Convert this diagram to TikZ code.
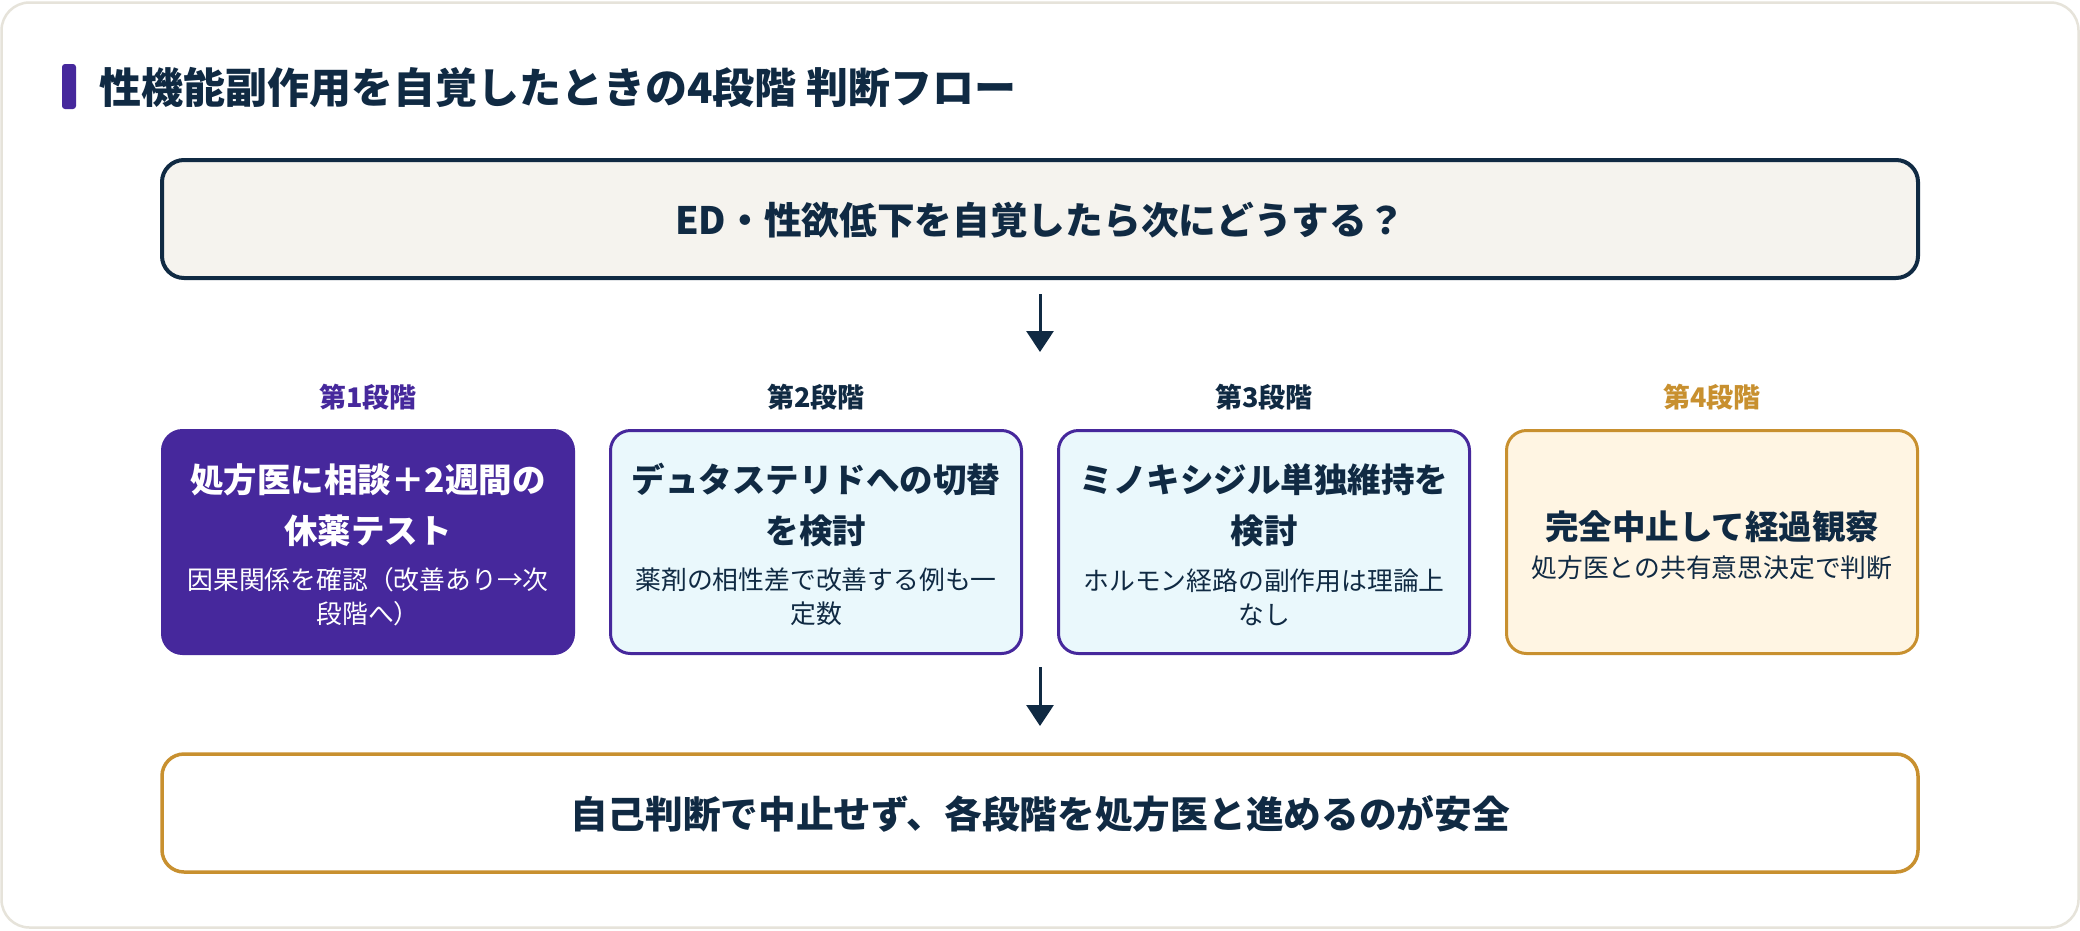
\documentclass[tikz,border=0pt]{standalone}
\usepackage{fontspec}
\setmainfont{Noto Sans CJK JP}
\usetikzlibrary{arrows.meta}
\definecolor{navy}{HTML}{102A43}
\definecolor{purp}{HTML}{46289C}
\definecolor{gold}{HTML}{C8902F}
\definecolor{cyanfill}{HTML}{EAF8FC}
\definecolor{creamfill}{HTML}{FFF5E3}
\definecolor{topfill}{HTML}{F5F3EE}
\definecolor{cardline}{HTML}{E6E3DA}
\begin{document}
\begin{tikzpicture}[x=1pt,y=-1pt,
  wide/.style={rectangle, rounded corners=22pt, minimum width=1756pt, minimum height=118pt, inner sep=0pt},
  stagebox/.style={rectangle, rounded corners=20pt, minimum width=411pt, minimum height=223pt, inner sep=0pt, line width=3pt},
  stagelabel/.style={font=\fontsize{27}{32}\selectfont\bfseries, inner sep=0pt},
  btitle/.style={font=\fontsize{33.5}{51}\selectfont\bfseries, align=center, inner sep=0pt},
  bsub/.style={font=\fontsize{25.8}{34}\selectfont, align=center, inner sep=0pt},
  arr/.style={draw=navy, line width=3pt, -{Triangle[width=27pt,length=21pt]}}
]
\useasboundingbox (0,0) rectangle (2080,930);
\fill[white] (0,0) rectangle (2080,930);
\draw[draw=cardline, line width=2.5pt, fill=white, rounded corners=28pt] (1.5,2.5) rectangle (2078.5,927.5);
% heading
\fill[purp, rounded corners=3pt] (62,64) rectangle (76,109);
\node[anchor=west, inner sep=0pt, text=navy, font=\fontsize{42}{50}\selectfont\bfseries] (heading) at (99,88) {性機能副作用を自覚したときの4段階 判断フロー};
% top box
\node[wide, draw=navy, line width=4pt, fill=topfill] (top) at (1040,219) {};
\node[text=navy, font=\fontsize{37.7}{44}\selectfont\bfseries, inner sep=0pt] (toptext) at (1040,220) {ED・性欲低下を自覚したら次にどうする？};
% stage labels
\node[stagelabel, text=purp] (l1) at (368,397) {第1段階};
\node[stagelabel, text=navy] (l2) at (816,397) {第2段階};
\node[stagelabel, text=navy] (l3) at (1264,397) {第3段階};
\node[stagelabel, text=gold] (l4) at (1712,397) {第4段階};
% stage boxes
\node[stagebox, draw=purp, fill=purp] (s1) at (368,542) {};
\node[stagebox, draw=purp, fill=cyanfill] (s2) at (816,542) {};
\node[stagebox, draw=purp, fill=cyanfill] (s3) at (1264,542) {};
\node[stagebox, draw=gold, fill=creamfill] (s4) at (1712,542) {};
% stage texts
\node[btitle, text=white] (t1) at (368,505) {処方医に相談＋2週間の\\休薬テスト};
\node[bsub, text=white] (u1) at (368,597) {因果関係を確認（改善あり→次\\段階へ）};
\node[btitle, text=navy] (t2) at (816,505) {デュタステリドへの切替\\を検討};
\node[bsub, text=navy] (u2) at (816,597) {薬剤の相性差で改善する例も一\\定数};
\node[btitle, text=navy] (t3) at (1264,505) {ミノキシジル単独維持を\\検討};
\node[bsub, text=navy] (u3) at (1264,597) {ホルモン経路の副作用は理論上\\なし};
\node[btitle, text=navy] (t4) at (1712,527) {完全中止して経過観察};
\node[bsub, text=navy] (u4) at (1712,568) {処方医との共有意思決定で判断};
% bottom box
\node[wide, draw=gold, line width=3.5pt, fill=white] (bottom) at (1040,813) {};
\node[text=navy, font=\fontsize{37.7}{44}\selectfont\bfseries, inner sep=0pt] (bottext) at (1040,814) {自己判断で中止せず、各段階を処方医と進めるのが安全};
% arrows
\coordinate (a1s) at (1040,294);
\coordinate (a1e) at (1040,352);
\coordinate (a2s) at (1040,667);
\coordinate (a2e) at (1040,726);
\draw[arr] (a1s) -- (a1e);
\draw[arr] (a2s) -- (a2e);
\end{tikzpicture}
\end{document}
